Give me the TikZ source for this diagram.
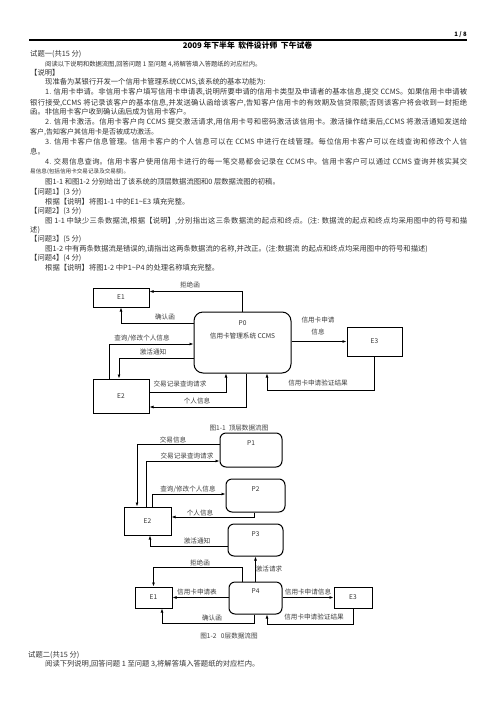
\documentclass[tikz,border=0pt]{standalone}
\usepackage{fontspec}
\setmainfont{Noto Sans CJK SC}
\usetikzlibrary{arrows.meta}

\XeTeXlinebreaklocale "zh"
\XeTeXlinebreakskip=0pt plus 2pt minus 0.6pt
\newcommand\bodyfont{\fontsize{7.3}{9}\selectfont}
\newcommand\dfdfont{\fontsize{6.6}{8}\selectfont}
% 两端对齐的一整行
\newcommand\jline[1]{\noindent\parfillskip=0pt\relax #1\par}

\begin{document}
\begin{tikzpicture}[x=1pt, y=-1pt, line join=miter,
  txt/.style={anchor=west, inner sep=0pt, font=\bodyfont, text=black!80},
  fullA/.style={txt, text width=422pt, align=justify},
  fullB/.style={txt, text width=437pt, align=justify},
  ext/.style={draw, line width=1pt, inner sep=0pt, font=\dfdfont, text=black!80},
  proc/.style={draw, line width=1pt, rounded corners=6pt, inner sep=0pt},
  plbl/.style={font=\dfdfont, text=black!80, anchor=center, yshift=-11pt},
  flow/.style={line width=0.8pt, -{Latex[length=4pt,width=3pt]}},
  lbl/.style={font=\dfdfont, inner sep=0pt, text=black!75}]

  \fill[white] (0,0) rectangle (496,702);

  %% ════ 页眉 ════
  \node[anchor=east, inner sep=0pt, font=\fontsize{6}{7}\selectfont\bfseries] (page) at (467,35) {1 / 8};
  \draw[line width=1.1pt] (29,40) -- (467,40);
  \node[inner sep=0pt, font=\fontsize{7.8}{9}\selectfont\bfseries] (title) at (247.5,46) {2009 年下半年\ \ 软件设计师\ \ 下午试卷};

  %% ════ 正文（逐行）════
  \node[txt] (L1) at (30,54) {试题一(共15 分)};
  \node[txt, font=\fontsize{6.3}{8}\selectfont] (L2) at (45,64) {阅读以下说明和数据流图,回答问题 1 至问题 4,将解答填入答题纸的对应栏内。};
  \node[txt] (L3) at (30,73) {【说明】};
  \node[txt] (L4) at (45,82.5) {现准备为某银行开发一个信用卡管理系统CCMS,该系统的基本功能为:};
  \node[fullA] (L5) at (45,92.5) {\jline{1. 信用卡申请。非信用卡客户填写信用卡申请表,说明所要申请的信用卡类型及申请者的基本信息,提交 CCMS。如果信用卡申请被}};
  \node[fullB] (L6) at (30,103) {\jline{银行接受,CCMS 将记录该客户的基本信息,并发送确认函给该客户,告知客户信用卡的有效期及信贷限额;否则该客户将会收到一封拒绝}};
  \node[txt] (L7) at (30,112) {函。非信用卡客户收到确认函后成为信用卡客户。};
  \node[fullA] (L8) at (45,122) {\jline{2. 信用卡激活。信用卡客户向 CCMS 提交激活请求,用信用卡号和密码激活该信用卡。激活操作结束后,CCMS 将激活通知发送给}};
  \node[txt, font=\fontsize{7}{9}\selectfont] (L9) at (30,132) {客户,告知客户其信用卡是否被成功激活。};
  \node[fullA] (L10) at (45,142) {\jline{3. 信用卡客户信息管理。信用卡客户的个人信息可以在 CCMS 中进行在线管理。每位信用卡客户可以在线查询和修改个人信}};
  \node[txt] (L11) at (30,152) {息。};
  \node[fullA] (L12) at (45,162) {\jline{4. 交易信息查询。信用卡客户使用信用卡进行的每一笔交易都会记录在 CCMS 中。信用卡客户可以通过 CCMS 查询并核实其交}};
  \node[txt, font=\fontsize{5.6}{7}\selectfont] (L13) at (30,171.5) {易信息(包括信用卡交易记录及交易额)。};
  \node[txt] (L14) at (45,182) {图1-1 和图1-2 分别给出了该系统的顶层数据流图和0 层数据流图的初稿。};
  \node[txt] (L15) at (30,192) {【问题1】(3 分)};
  \node[txt] (L16) at (45,202) {根据【说明】将图1-1 中的E1\textasciitilde E3 填充完整。};
  \node[txt] (L17) at (30,211) {【问题2】(3 分)};
  \node[fullA] (L18) at (45,221) {\jline{图 1-1 中缺少三条数据流,根据【说明】,分别指出这三条数据流的起点和终点。(注: 数据流的起点和终点均采用图中的符号和描}};
  \node[txt] (L19) at (30,230) {述)};
  \node[txt] (L20) at (30,239.5) {【问题3】(5 分)};
  \node[txt] (L21) at (45,249) {图1-2 中有两条数据流是错误的,请指出这两条数据流的名称,并改正。(注:数据流 的起点和终点均采用图中的符号和描述)};
  \node[txt] (L22) at (30,258.5) {【问题4】(4 分)};
  \node[txt] (L23) at (45,268) {根据【说明】将图1-2 中P1\textasciitilde P4 的处理名称填充完整。};

  %% ════ 图1-1 顶层数据流图 ════
  \node[ext, minimum width=56pt, minimum height=19pt] (E1a) at (121,297.5) {E1};
  \node[ext, minimum width=56pt, minimum height=34pt] (E2a) at (121,396) {E2};
  \node[ext, minimum width=55pt, minimum height=29pt] (E3a) at (374.5,341.5) {E3};
  \node[proc, rounded corners=9pt, minimum width=97pt, minimum height=61pt,
        label={[font=\dfdfont, text=black!80, anchor=center, align=center, yshift=-18.5pt, name=P0t]north:{P0\\[5pt]信用卡管理系统 CCMS}}] (P0) at (242.5,342.5) {};

  \draw[flow] (P0.north) |- ([yshift=6pt]E1a.east);
  \draw[flow] ([yshift=19.5pt]P0.west) -| (E1a.south);
  \draw[flow] ([xshift=-12pt]E2a.north) |- ([yshift=-1.5pt]P0.west);
  \draw[flow] ([yshift=-15.5pt]P0.west) -| ([xshift=-2pt]E2a.north);
  \draw[flow] ([yshift=4pt]E2a.east) -| ([xshift=-16.5pt]P0.south);
  \draw[flow] ([xshift=3.5pt]P0.south) |- ([yshift=-11pt]E2a.east);
  \draw[flow] (P0.east |- E3a.west) -- (E3a.west);
  \draw[flow] (E3a.south) -- ++(0,34) -| ([xshift=24.5pt]P0.south);

  \node[lbl] (rej1) at (190,285) {拒绝函};
  \node[lbl] (conf1) at (165,317) {确认函};
  \node[lbl] (qry1) at (142,338) {查询/修改个人信息};
  \node[lbl] (act1) at (153,352) {激活通知};
  \node[lbl] (trq1) at (180,384) {交易记录查询请求};
  \node[lbl] (pinf1) at (197,401) {个人信息};
  \node[lbl, align=center] (app1) at (318,326) {信用卡申请\\[4pt]信息};
  \node[lbl] (ver1) at (318,383) {信用卡申请验证结果};
  \node[lbl] (cap1) at (239,428) {图1-1\ \ 顶层数据流图};

  %% ════ 图1-2 0层数据流图 ════
  \node[proc, minimum width=62pt, minimum height=34pt, label={[plbl, name=P1t]north:P1}] (P1) at (251,450) {};
  \node[proc, minimum width=59pt, minimum height=33pt, label={[plbl, name=P2t]north:P2}] (P2) at (255.5,495.5) {};
  \node[proc, minimum width=55pt, minimum height=32pt, label={[plbl, name=P3t]north:P3}] (P3) at (255.5,540) {};
  \node[proc, minimum width=53pt, minimum height=32pt, label={[plbl, yshift=1pt, name=P4t]north:P4}] (P4) at (255.5,598) {};
  \node[ext, minimum width=47pt, minimum height=28pt] (E2b) at (147.5,521) {E2};
  \node[ext, minimum width=37pt, minimum height=21pt] (E1b) at (153.5,597.5) {E1};
  \node[ext, minimum width=38pt, minimum height=21pt] (E3b) at (353,597.5) {E3};

  \draw[flow] ([yshift=6pt]P1.west) -| ([xshift=-10.5pt]E2b.north);
  \draw[flow] ([xshift=-1.5pt]E2b.north) |- ([yshift=-11pt]P1.west);
  \draw[flow] ([xshift=4.5pt]E2b.north) |- ([yshift=1.5pt]P2.west);
  \draw[flow] ([xshift=-1.5pt]P2.south) |- ([yshift=4pt]E2b.east);
  \draw[flow] ([yshift=-6pt]P3.west) -| ([xshift=2.5pt]E2b.south);
  \draw[flow] (P4.north) -- (P3.south);
  \draw[flow] ([xshift=-13.5pt]P4.north) -- ++(0,-14) -| (E1b.north);
  \draw[flow] (P4.west |- E1b.east) -- (E1b.east);
  \draw[flow] ([xshift=-1.5pt]P4.south) -- ++(0,9) -| ([xshift=8.5pt]E1b.south);
  \draw[flow] (P4.east |- E3b.west) -- (E3b.west);
  \draw[flow] (E3b.south) -- ++(0,16) -| ([xshift=11.5pt]P4.south);

  \node[lbl] (tinf2) at (173,440) {交易信息};
  \node[lbl] (trq2) at (187,456) {交易记录查询请求};
  \node[lbl] (qry2) at (188,489) {查询/修改个人信息};
  \node[lbl] (pinf2) at (200,513) {个人信息};
  \node[lbl] (act2) at (197,541) {激活通知};
  \node[lbl] (rej2) at (200,563) {拒绝函};
  \node[lbl] (areq2) at (269,569) {激活请求};
  \node[lbl] (form2) at (197,592) {信用卡申请表};
  \node[lbl] (conf2) at (212,618) {确认函};
  \node[lbl] (app2) at (308,592) {信用卡申请信息};
  \node[lbl] (ver2) at (314,617) {信用卡申请验证结果};
  \node[lbl] (cap2) at (229,636) {图1-2\ \ \ 0层数据流图};

  %% ════ 试题二 ════
  \node[txt] (L24) at (28,655) {试题二(共15 分)};
  \node[txt] (L25) at (45,664.5) {阅读下列说明,回答问题 1 至问题 3,将解答填入答题纸的对应栏内。};

  % 钉死画布
  \pgfresetboundingbox
  \path[use as bounding box] (0,0) rectangle (496,702);
\end{tikzpicture}
\end{document}
